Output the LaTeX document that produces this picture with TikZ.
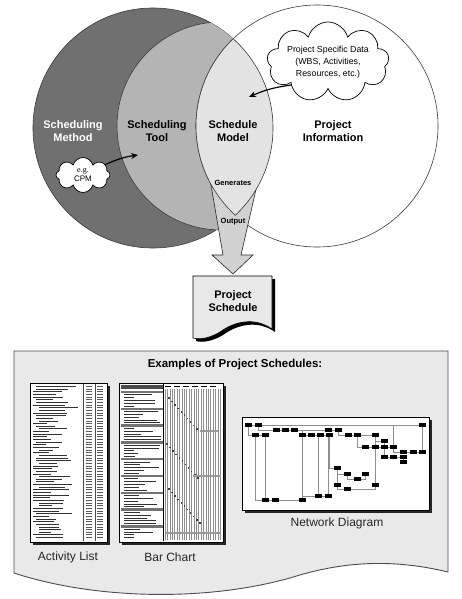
\documentclass[tikz,border=0pt]{standalone}
\usepackage{fontspec}
\setmainfont{Liberation Sans}
\newfontfamily\egfont{Liberation Serif}
\usetikzlibrary{arrows.meta,shapes.symbols}
\definecolor{methodgray}{HTML}{707070}
\definecolor{toolgray}{HTML}{B4B4B4}
\definecolor{modelgray}{HTML}{E3E3E3}
\definecolor{outputgray}{HTML}{D2D2D2}
\definecolor{panelgray}{HTML}{E9E9E9}
\definecolor{edgegray}{HTML}{3A3A3A}
\definecolor{gridgray}{HTML}{8E8E8E}
\tikzset{
  venn/.style={draw=edgegray, line width=0.6pt},
  headtext/.style={font=\fontsize{11}{13}\selectfont\bfseries, align=center},
  tinytext/.style={font=\fontsize{7.5}{9}\selectfont\bfseries, inner sep=0.5pt},
  captext/.style={font=\fontsize{12}{14}\selectfont, text=black!85},
  puff/.style={cloud, cloud ignores aspect, draw=black, fill=white,
    line width=0.7pt, align=center, inner sep=0pt},
  pointer/.style={-{Stealth[length=7pt,width=6pt]}, line width=1.2pt},
  thumb/.style={draw=black, line width=0.7pt, fill=white},
  shade/.style={fill=black!85},
  netbox/.style={fill=black, minimum width=7pt, minimum height=4pt, inner sep=0pt},
  netline/.style={draw=gridgray, line width=0.45pt},
}
\begin{document}
\begin{tikzpicture}[x=1pt, y=-1pt]
  \useasboundingbox (0,0) rectangle (462,599);
  % venn part
  \fill[methodgray] (153,128) circle[radius=120pt];
  \draw[venn] (153,128) circle[radius=120pt];
  \begin{scope}
    \clip (153,128) circle[radius=120pt];
    \fill[toolgray] (221,126) circle[radius=104pt];
    \draw[venn] (221,126) circle[radius=104pt];
  \end{scope}
  \fill[white] (317,126) circle[radius=121pt];
  \draw[venn] (317,126) circle[radius=121pt];
  % output arrow
  \draw[fill=outputgray, draw=black!85, line width=0.6pt]
    (205,150) -- (223,255) -- (212,255) -- (233,274) -- (253,255) -- (241,255) -- (265,150) -- cycle;
  \begin{scope}
    \clip (153,128) circle[radius=120pt];
    \fill[modelgray] (317,126) circle[radius=121pt];
    \draw[venn] (317,126) circle[radius=121pt];
  \end{scope}
  \begin{scope}
    \clip (317,126) circle[radius=121pt];
    \draw[venn] (153,128) circle[radius=120pt];
  \end{scope}
  \node[headtext, text=white] (method) at (73,131) {Scheduling\\Method};
  \node[headtext] (tool) at (157,131) {Scheduling\\Tool};
  \node[headtext] (model) at (233,131) {Schedule\\Model};
  \node[headtext] (info) at (333,131) {Project\\Information};
  \node[tinytext] (generates) at (233,183) {Generates};
  \node[tinytext] (output) at (233,222) {Output};
  % clouds
  \node[puff, cloud puffs=8, minimum width=54pt, minimum height=35pt,
    font=\fontsize{8}{9.5}\selectfont] (cpm) at (83,175) {{\egfont e.g.}\\CPM};
  \node[puff, cloud puffs=9, minimum width=122pt, minimum height=80pt,
    font=\fontsize{8.8}{12}\selectfont] (data) at (328,62)
    {Project Specific Data\\(WBS, Activities,\\Resources, etc.)};
  \coordinate (toolpt) at (138,155);
  \coordinate (modelpt) at (249,97);
  \draw[pointer] (cpm.25) to[bend left=8] (toolpt);
  \draw[pointer] (data.212) to[bend right=8] (modelpt);
  % project schedule document
  \fill[black] (196,279) -- (275,279) -- (275,332) .. controls (258,320) and (238,324) .. (223,335)
    .. controls (213,341) and (203,343) .. (196,341) -- cycle;
  \draw[fill=black!9, line width=0.6pt] (193,276) -- (272,276) -- (272,329) .. controls (255,317) and (235,321) .. (220,332)
    .. controls (210,338) and (200,340) .. (193,338) -- cycle;
  \node[headtext] (schedule) at (233,301) {Project\\Schedule};
  % examples panel
  \draw[fill=panelgray, draw=black!70, line width=0.9pt] (14,351) -- (448,351) -- (448,572)
    .. controls (390,558) and (340,562) .. (290,578)
    .. controls (200,603) and (90,598) .. (14,573) -- cycle;
  \node[headtext, font=\fontsize{11.5}{13}\selectfont\bfseries] (examples) at (235,365) {Examples of Project Schedules:};
  % activity list thumbnail
  \fill[shade] (32.5,385.5) rectangle (109.5,544.5);
  \draw[thumb] (30,383) rectangle (107,542);
  \draw[black!70, line width=0.4pt] (83,384) -- (83,541) (95,384) -- (95,541);
  \pgfmathsetseed{11}
  \foreach \r in {0,...,57}{
    \pgfmathsetmacro{\ry}{386.5+2.65*\r}
    \pgfmathsetmacro{\ind}{3*floor(2.99*rnd)}
    \pgfmathsetmacro{\len}{12+floor(30*rnd)}
    \draw[black!80, line width=0.9pt] (33+\ind,\ry) -- ++(\len,0);
    \draw[black!65, line width=0.9pt] (85.5,\ry) -- (91.5,\ry) (97,\ry) -- (103,\ry);
  }
  \node[captext] (actlabel) at (68,557) {Activity List};
  % bar chart thumbnail
  \fill[shade] (121.5,385.5) rectangle (225.5,544.5);
  \draw[thumb] (119,383) rectangle (223,542);
  \foreach \gx in {165,167.4,...,221}
    \draw[gridgray, line width=0.3pt] (\gx,389) -- (\gx,540);
  \draw[black, line width=0.5pt] (163,384) -- (163,541);
  \fill[black!70] (121,385) rectangle (162.5,388.5);
  \foreach \hx in {165,174,...,216}
    \draw[black, line width=0.9pt] (\hx,386.5) -- ++(6,0);
  \foreach \r in {0,...,52}{
    \pgfmathsetmacro{\ry}{392+2.8*\r}
    \pgfmathtruncatemacro{\kind}{mod(\r,6)}
    \ifnum\kind=0
      \fill[black!55] (121,\ry-1.2) rectangle (162.5,\ry+1.2);
    \else
      \pgfmathsetmacro{\len}{10+floor(28*rnd)}
      \draw[black!80, line width=0.8pt] (124,\ry) -- ++(\len,0);
    \fi
  }
  \foreach \sx/\sy/\n in {165/394/10, 163/440/11, 165/485/11}{
    \foreach \k in {1,...,\n}
      \fill[black!75] (\sx+3.1*\k,\sy+3.4*\k) rectangle ++(1.5,1.5);
  }
  \draw[black!40, line width=1.2pt] (200,431) -- (218,431) (193,476) -- (221,476) (166,533) -- (221,533);
  \node[captext] (barlabel) at (170,557) {Bar Chart};
  % network diagram thumbnail
  \fill[shade] (244.5,419.5) rectangle (431.5,512.5);
  \draw[thumb] (242,417) rectangle (429,510);
  \foreach \nm/\nx/\ny in {1/248/425, 2/258/425, 3/422/425, 4/276/430, 5/285/430, 6/294/430,
      7/328/430, 8/338/430, 9/255/435, 10/265/435, 11/302/435, 12/311/435, 13/320/435,
      14/329/435, 15/348/435, 16/357/435, 17/375/435, 18/384/441, 19/365/447, 20/375/447,
      21/384/447, 22/393/447, 23/403/452, 24/413/452, 25/422/452, 26/384/457, 27/393/457,
      28/403/457, 29/403/462, 30/337/468, 31/347/474, 32/365/474, 33/357/479, 34/337/485,
      35/375/485, 36/347/489, 37/318/496, 38/328/496, 39/265/500, 40/275/500, 41/302/500}
    \coordinate (p\nm) at (\nx,\ny);
  \foreach \a/\b in {1/2, 2/3, 4/5, 5/6, 6/7, 7/8, 9/10, 11/12, 12/13, 13/14, 15/16, 16/17,
      19/20, 20/21, 21/22, 23/24, 24/25, 26/27, 27/28, 28/29, 39/40, 40/41, 37/38, 10/39,
      11/41, 30/34, 17/35, 18/21, 3/25}
    \draw[netline] (p\a) -- (p\b);
  \foreach \a/\b in {2/4, 1/9, 9/39, 8/15, 14/30, 30/31, 31/33, 34/36, 17/18, 16/19,
      22/23, 41/37, 21/26}
    \draw[netline] (p\a) |- (p\b);
  \foreach \a/\b in {6/11, 13/37, 14/38, 33/32, 36/35, 3/22}
    \draw[netline] (p\a) -| (p\b);
  \foreach \nm in {1,...,41}
    \node[netbox] (nb\nm) at (p\nm) {};
  \node[captext] (netlabel) at (337,523) {Network Diagram};
\end{tikzpicture}
\end{document}
